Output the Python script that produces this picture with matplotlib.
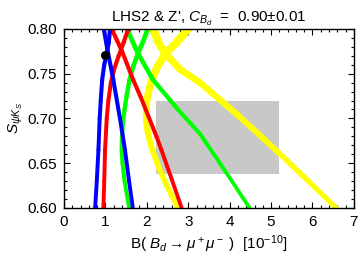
import matplotlib
matplotlib.use("Agg")
import matplotlib.pyplot as plt
from matplotlib.collections import LineCollection
from matplotlib.patches import Rectangle
import numpy as np

plt.rcParams['font.family'] = ['Liberation Sans', 'DejaVu Sans']
plt.rcParams['mathtext.fontset'] = 'custom'
plt.rcParams['mathtext.it'] = 'Liberation Sans:italic'
plt.rcParams['mathtext.rm'] = 'Liberation Sans'

# branches of each band: (B, S) pairs
blue_r_S = [0.80, 0.776, 0.743, 0.70, 0.665, 0.63, 0.60]
blue_r_B = [0.96, 1.05, 1.19, 1.35, 1.47, 1.57, 1.66]
blue_l_S = [0.80, 0.785, 0.772, 0.76, 0.743, 0.72, 0.70, 0.665, 0.63, 0.60]
blue_l_B = [1.11, 1.08, 1.03, 0.97, 0.92, 0.885, 0.86, 0.83, 0.79, 0.75]

red_r_S = [0.80, 0.775, 0.743, 0.724, 0.68, 0.665, 0.632, 0.60]
red_r_B = [1.15, 1.40, 1.67, 1.85, 2.23, 2.35, 2.60, 2.84]
red_l_S = [0.80, 0.785, 0.77, 0.755, 0.74, 0.72, 0.70, 0.665, 0.63, 0.60]
red_l_B = [1.55, 1.44, 1.32, 1.21, 1.13, 1.07, 1.03, 0.99, 0.97, 0.95]

green_r_S = [0.80, 0.773, 0.743, 0.71, 0.683, 0.642, 0.60]
green_r_B = [1.52, 1.78, 2.15, 2.75, 3.28, 3.88, 4.48]
green_l_S = [0.80, 0.785, 0.773, 0.758, 0.743, 0.725, 0.71, 0.695, 0.68, 0.665, 0.65, 0.63, 0.60]
green_l_B = [2.02, 1.90, 1.79, 1.67, 1.58, 1.51, 1.46, 1.42, 1.40, 1.39, 1.41, 1.46, 1.57]

yellow_r_S = [0.80, 0.785, 0.773, 0.755, 0.74, 0.702, 0.661, 0.63, 0.60]
yellow_r_B = [2.15, 2.28, 2.43, 2.80, 3.28, 4.24, 5.20, 5.90, 6.57]
yellow_l_S = [0.80, 0.785, 0.773, 0.76, 0.748, 0.735, 0.725, 0.715, 0.705, 0.695,
              0.685, 0.675, 0.665, 0.645, 0.625, 0.60]
yellow_l_B = [3.00, 2.72, 2.46, 2.28, 2.16, 2.07, 2.02, 1.99, 1.98, 1.99,
              2.02, 2.07, 2.13, 2.29, 2.48, 2.75]

# experimental box and SM point
exp_B = [2.23, 5.20]
exp_S = [0.638, 0.720]
sm_B = 0.99
sm_S = 0.771


def band(ax, B, S, w_top, w_bot, color):
    pts = np.column_stack([B, S])
    segs = np.stack([pts[:-1], pts[1:]], axis=1)
    widths = np.linspace(w_top, w_bot, len(segs))
    lc = LineCollection(segs, colors=color, linewidths=widths,
                        capstyle='round', joinstyle='round')
    ax.add_collection(lc)


fig = plt.figure(figsize=(3.6, 2.58), dpi=100)
ax = fig.add_axes([0.178, 0.194, 0.805, 0.694])

ax.add_patch(Rectangle((exp_B[0], exp_S[0]), exp_B[1] - exp_B[0],
                       exp_S[1] - exp_S[0], color='#c8c8c8', lw=0))

band(ax, yellow_r_B, yellow_r_S, 5.8, 3.6, '#ffff00')
band(ax, yellow_l_B, yellow_l_S, 5.8, 3.8, '#ffff00')
band(ax, green_r_B, green_r_S, 3.4, 2.7, '#00ff00')
band(ax, green_l_B, green_l_S, 3.4, 2.8, '#00ff00')
band(ax, red_r_B, red_r_S, 3.0, 2.8, '#ff0000')
band(ax, red_l_B, red_l_S, 3.0, 2.8, '#ff0000')
band(ax, blue_r_B, blue_r_S, 3.0, 2.8, '#0000ff')
band(ax, blue_l_B, blue_l_S, 3.0, 2.8, '#0000ff')

ax.plot([sm_B], [sm_S], 'o', color='black', ms=5.5, zorder=5)

ax.set_xlim(0, 7)
ax.set_ylim(0.60, 0.80)
ax.set_xticks(range(8))
ax.set_xticks(np.arange(0, 7.01, 0.2), minor=True)
ax.set_yticks([0.60, 0.65, 0.70, 0.75, 0.80])
ax.set_yticks(np.arange(0.60, 0.8001, 0.01), minor=True)
ax.set_yticklabels(['0.60', '0.65', '0.70', '0.75', '0.80'])
ax.tick_params(which='both', direction='in', top=True, right=True,
               labelsize=11, width=0.8, pad=5)
ax.tick_params(which='major', length=4)
ax.tick_params(which='minor', length=2.2)
for sp in ax.spines.values():
    sp.set_linewidth(1.0)

ax.set_title(r"LHS2 & Z', $C_{B_d}$  =  0.90$\pm$0.01", fontsize=11, pad=5)
ax.set_xlabel(r"B( $B_d \rightarrow \mu^+\mu^-$ )  [$10^{-10}$]", fontsize=11, labelpad=3)
ax.set_ylabel(r"$S_{\psi K_S}$", fontsize=11, labelpad=2)

fig.savefig("out.png", dpi=100)
